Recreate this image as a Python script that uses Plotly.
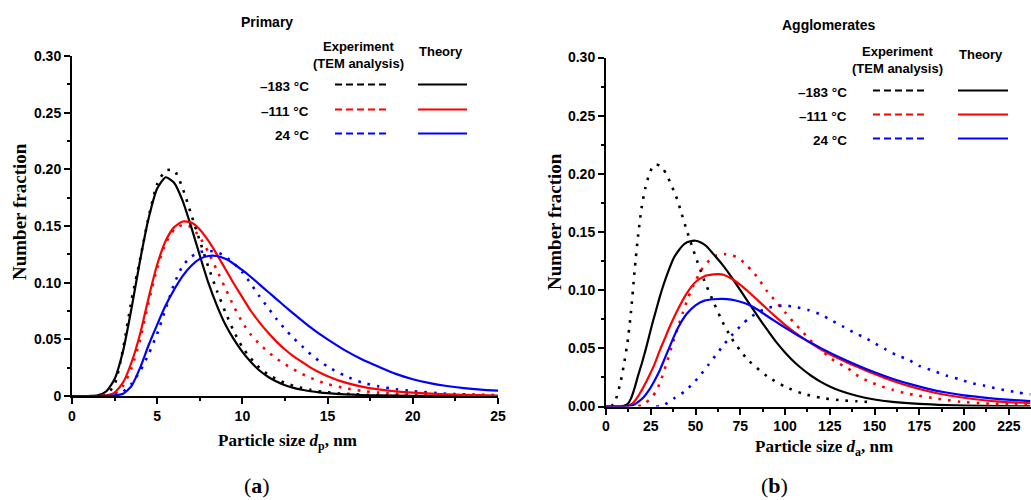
import plotly.graph_objects as go

# ---------------- Panel (a): Primary particles ----------------
a_x_black_th = [0, 1, 1.5, 2, 2.5, 3, 3.5, 4, 4.5, 5, 5.5, 6, 6.5, 7, 7.5, 8, 8.5, 9, 9.5, 10, 10.5, 11, 11.5, 12, 12.5, 13, 13.5, 14, 14.5, 15, 16, 17, 18, 20, 25]
a_y_black_th = [0, 0, 0.0005, 0.004, 0.015, 0.040, 0.078, 0.120, 0.157, 0.183, 0.193, 0.188, 0.172, 0.149, 0.124, 0.100, 0.080, 0.063, 0.050, 0.039, 0.030, 0.0225, 0.017, 0.0127, 0.0095, 0.0072, 0.0055, 0.0042, 0.0032, 0.0025, 0.0015, 0.0009, 0.0005, 0.0002, 0]

a_x_black_ex = [1.8, 2, 2.5, 3, 3.5, 4, 4.5, 5, 5.5, 6, 6.5, 7, 7.5, 8, 8.5, 9, 9.5, 10, 10.5, 11, 11.5, 12, 12.5, 13, 13.5, 14, 15, 16, 18, 20]
a_y_black_ex = [0, 0.001, 0.010, 0.042, 0.085, 0.121, 0.158, 0.187, 0.199, 0.199, 0.183, 0.160, 0.137, 0.114, 0.093, 0.074, 0.057, 0.043, 0.033, 0.025, 0.019, 0.015, 0.0115, 0.009, 0.007, 0.0055, 0.0032, 0.002, 0.0006, 0.0002]

a_x_red_th = [0, 1.5, 2, 2.5, 3, 3.5, 4, 4.5, 5, 5.5, 6, 6.5, 7, 7.5, 8, 8.5, 9, 9.5, 10, 10.5, 11, 11.5, 12, 12.5, 13, 13.5, 14, 14.5, 15, 16, 17, 18, 19, 20, 22, 25]
a_y_red_th = [0, 0, 0.0005, 0.003, 0.012, 0.030, 0.055, 0.087, 0.116, 0.137, 0.149, 0.154, 0.153, 0.147, 0.137, 0.125, 0.112, 0.099, 0.087, 0.075, 0.065, 0.056, 0.048, 0.041, 0.035, 0.030, 0.025, 0.021, 0.0175, 0.012, 0.0083, 0.0058, 0.0041, 0.0029, 0.0014, 0.0004]

a_x_red_ex = [2, 2.5, 3, 3.5, 4, 4.5, 5, 5.5, 6, 6.5, 7, 7.5, 8, 8.5, 9, 9.5, 10, 10.5, 11, 11.5, 12, 12.5, 13, 13.5, 14, 14.5, 15, 16, 17, 18, 20, 22, 25]
a_y_red_ex = [0, 0.002, 0.009, 0.025, 0.050, 0.083, 0.113, 0.135, 0.147, 0.151, 0.149, 0.140, 0.127, 0.111, 0.095, 0.079, 0.065, 0.054, 0.046, 0.039, 0.033, 0.028, 0.0235, 0.0195, 0.016, 0.013, 0.0105, 0.007, 0.0045, 0.003, 0.0012, 0.0005, 0]

a_x_blue_th = [0, 2, 2.5, 3, 3.5, 4, 4.5, 5, 5.5, 6, 6.5, 7, 7.5, 8, 8.5, 9, 9.5, 10, 10.5, 11, 11.5, 12, 12.5, 13, 13.5, 14, 14.5, 15, 16, 17, 18, 19, 20, 21, 22, 23, 24, 25]
a_y_blue_th = [0, 0, 0.0005, 0.002, 0.009, 0.025, 0.045, 0.063, 0.080, 0.094, 0.106, 0.115, 0.121, 0.1235, 0.1235, 0.121, 0.1165, 0.111, 0.105, 0.0985, 0.092, 0.0855, 0.079, 0.0727, 0.0665, 0.0605, 0.055, 0.050, 0.0405, 0.0325, 0.0258, 0.0195, 0.0148, 0.0113, 0.0088, 0.007, 0.0057, 0.0048]

a_x_blue_ex = [2.5, 3, 3.5, 4, 4.5, 5, 5.5, 6, 6.5, 7, 7.5, 8, 8.5, 9, 9.5, 10, 10.5, 11, 11.5, 12, 12.5, 13, 13.5, 14, 14.5, 15, 16, 17, 18, 19, 20, 22, 25]
a_y_blue_ex = [0.001, 0.004, 0.011, 0.022, 0.037, 0.055, 0.077, 0.099, 0.115, 0.123, 0.127, 0.128, 0.127, 0.123, 0.117, 0.109, 0.099, 0.088, 0.078, 0.068, 0.059, 0.051, 0.044, 0.037, 0.031, 0.026, 0.018, 0.012, 0.0085, 0.006, 0.0043, 0.002, 0.0008]

# ---------------- Panel (b): Agglomerates ----------------
b_x_black_th = [0, 8, 10, 12, 14, 16, 18, 20, 22, 24, 26, 28, 30, 32, 35, 38, 41, 44, 47, 50, 53, 56, 60, 65, 70, 75, 80, 85, 90, 95, 100, 105, 110, 115, 120, 125, 130, 140, 150, 160, 175, 190, 210, 237]
b_y_black_th = [0, 0, 0.0005, 0.002, 0.007, 0.016, 0.027, 0.037, 0.048, 0.060, 0.072, 0.083, 0.094, 0.104, 0.117, 0.128, 0.135, 0.140, 0.142, 0.1425, 0.141, 0.138, 0.131, 0.122, 0.1115, 0.100, 0.0885, 0.077, 0.066, 0.0555, 0.0465, 0.0385, 0.0318, 0.026, 0.0212, 0.0172, 0.014, 0.0092, 0.006, 0.004, 0.0022, 0.0012, 0.0005, 0.0001]

b_x_black_ex = [3, 5, 8, 10, 12, 14, 16, 18, 20, 22, 24, 26, 28, 30, 32, 34, 36, 38, 40, 42, 45, 50, 55, 60, 65, 70, 75, 80, 90, 100, 110, 120, 130, 140, 148]
b_y_black_ex = [0, 0.004, 0.020, 0.036, 0.055, 0.082, 0.117, 0.148, 0.172, 0.188, 0.199, 0.206, 0.208, 0.207, 0.204, 0.199, 0.192, 0.185, 0.177, 0.167, 0.152, 0.129, 0.108, 0.090, 0.073, 0.059, 0.048, 0.039, 0.026, 0.017, 0.011, 0.0075, 0.0055, 0.0045, 0.0038]

b_x_red_th = [0, 10, 12, 15, 18, 21, 24, 27, 30, 33, 36, 40, 45, 50, 55, 60, 63, 66, 70, 75, 80, 85, 90, 95, 100, 105, 110, 115, 120, 125, 130, 135, 140, 150, 160, 170, 180, 190, 200, 210, 220, 237]
b_y_red_th = [0, 0, 0.0005, 0.003, 0.009, 0.017, 0.026, 0.036, 0.048, 0.059, 0.070, 0.083, 0.097, 0.107, 0.112, 0.1135, 0.1138, 0.113, 0.110, 0.1045, 0.098, 0.091, 0.0838, 0.0768, 0.0702, 0.0642, 0.0588, 0.0538, 0.0492, 0.045, 0.0412, 0.0376, 0.0343, 0.028, 0.0222, 0.0172, 0.0131, 0.0099, 0.0075, 0.0056, 0.0042, 0.0028]

b_x_red_ex = [18, 22, 25, 28, 31, 34, 37, 40, 43, 46, 50, 54, 58, 62, 66, 70, 74, 78, 82, 86, 90, 95, 100, 105, 110, 114, 120, 125, 130, 135, 141, 147, 154, 160, 167, 174, 185, 198, 211, 225, 237]
b_y_red_ex = [0, 0.003, 0.007, 0.013, 0.024, 0.038, 0.053, 0.067, 0.081, 0.094, 0.108, 0.119, 0.126, 0.130, 0.131, 0.130, 0.128, 0.122, 0.116, 0.108, 0.099, 0.090, 0.081, 0.072, 0.064, 0.057, 0.049, 0.042, 0.037, 0.033, 0.026, 0.0215, 0.0172, 0.0144, 0.0115, 0.0095, 0.0067, 0.0041, 0.0027, 0.0022, 0.0018]

b_x_blue_th = [0, 10, 15, 18, 21, 24, 27, 30, 33, 36, 40, 45, 50, 55, 60, 65, 70, 75, 80, 85, 90, 95, 100, 105, 110, 115, 120, 125, 130, 140, 150, 160, 170, 180, 190, 200, 210, 220, 237]
b_y_blue_th = [0, 0, 0.001, 0.004, 0.008, 0.014, 0.022, 0.031, 0.042, 0.053, 0.067, 0.0795, 0.087, 0.091, 0.0922, 0.0925, 0.0918, 0.090, 0.0872, 0.0830, 0.0778, 0.0727, 0.0678, 0.0631, 0.0586, 0.0543, 0.0502, 0.0463, 0.0426, 0.0357, 0.0294, 0.0239, 0.0192, 0.0152, 0.0120, 0.0095, 0.0078, 0.0064, 0.0046]

b_x_blue_ex = [28, 32, 38, 44, 49, 53, 57, 62, 66, 71, 76, 80, 85, 90, 95, 100, 106, 113, 120, 126, 132, 138, 145, 150, 156, 162, 169, 175, 183, 190, 197, 203, 211, 217, 224, 230, 237]
b_y_blue_ex = [0, 0.001, 0.007, 0.013, 0.0205, 0.0275, 0.0355, 0.0455, 0.0535, 0.0625, 0.0705, 0.076, 0.081, 0.0845, 0.0862, 0.0868, 0.0855, 0.083, 0.079, 0.074, 0.069, 0.064, 0.0588, 0.0545, 0.0493, 0.0444, 0.0401, 0.0349, 0.0306, 0.0266, 0.0237, 0.0206, 0.018, 0.0158, 0.0137, 0.012, 0.0106]

# ---------------- Labels / ticks ----------------
series_labels = ["–183 °C", "–111 °C", "24 °C"]
series_colors = ["#000000", "#ff0000", "#0000ff"]
a_xticks = [0, 5, 10, 15, 20, 25]
b_xticks = [0, 25, 50, 75, 100, 125, 150, 175, 200, 225]
yticks = [0, 0.05, 0.10, 0.15, 0.20, 0.25, 0.30]
a_yticktext = ["0", "0.05", "0.10", "0.15", "0.20", "0.25", "0.30"]
b_yticktext = ["0.00", "0.05", "0.10", "0.15", "0.20", "0.25", "0.30"]

W, H = 1031, 500
def px(x):
    return x / W
def py(y):
    return 1 - y / H

fig = go.Figure()

panels = [
    ("x", "y", [(a_x_black_ex, a_y_black_ex), (a_x_red_ex, a_y_red_ex), (a_x_blue_ex, a_y_blue_ex)],
     [(a_x_black_th, a_y_black_th), (a_x_red_th, a_y_red_th), (a_x_blue_th, a_y_blue_th)]),
    ("x2", "y2", [(b_x_black_ex, b_y_black_ex), (b_x_red_ex, b_y_red_ex), (b_x_blue_ex, b_y_blue_ex)],
     [(b_x_black_th, b_y_black_th), (b_x_red_th, b_y_red_th), (b_x_blue_th, b_y_blue_th)]),
]
for xa, ya, exps, ths in panels:
    for (xs, ys), col, lab in zip(exps, series_colors, series_labels):
        fig.add_trace(go.Scatter(x=xs, y=ys, xaxis=xa, yaxis=ya, mode="lines",
                                 line=dict(color=col, width=2.6, dash="2.6px,7px", shape="spline", smoothing=0.6),
                                 name=lab + " experiment", showlegend=False))
    for (xs, ys), col, lab in zip(ths, series_colors, series_labels):
        fig.add_trace(go.Scatter(x=xs, y=ys, xaxis=xa, yaxis=ya, mode="lines",
                                 line=dict(color=col, width=2.2, shape="spline", smoothing=0.6),
                                 name=lab + " theory", showlegend=False))

tickfont = dict(family="Liberation Sans, Arial", size=14, color="black", weight="bold")
axis_common = dict(showline=True, linecolor="black", linewidth=2, ticks="outside", ticklen=6,
                   tickwidth=2, tickcolor="black", showgrid=False, zeroline=False,
                   tickfont=tickfont, automargin=False, mirror=False)

fig.update_layout(
    width=W, height=H,
    margin=dict(l=0, r=0, t=0, b=0),
    paper_bgcolor="white", plot_bgcolor="white",
    showlegend=False,
    xaxis=dict(domain=[px(72), px(498)], range=[0, 25], anchor="y",
               tickvals=a_xticks, ticktext=[str(v) for v in a_xticks],
               minor=dict(tickvals=[2.5, 7.5, 12.5, 17.5, 22.5], ticks="outside", ticklen=3,
                          tickwidth=2, tickcolor="black", showgrid=False),
               **axis_common),
    yaxis=dict(domain=[py(396), py(56)], range=[0, 0.30], anchor="x",
               tickvals=yticks, ticktext=a_yticktext,
               minor=dict(tickvals=[0.025, 0.075, 0.125, 0.175, 0.225, 0.275], ticks="outside",
                          ticklen=3, tickwidth=2, tickcolor="black", showgrid=False),
               **axis_common),
    xaxis2=dict(domain=[px(606), 1.0], range=[0, 237.4], anchor="y2",
                tickvals=b_xticks, ticktext=[str(v) for v in b_xticks],
                minor=dict(tickvals=[12.5 + 25 * i for i in range(10)], ticks="outside", ticklen=3,
                           tickwidth=2, tickcolor="black", showgrid=False),
                **axis_common),
    yaxis2=dict(domain=[py(406.5), py(57.5)], range=[0, 0.30], anchor="x2",
                tickvals=yticks, ticktext=b_yticktext,
                minor=dict(tickvals=[0.025, 0.075, 0.125, 0.175, 0.225, 0.275], ticks="outside",
                           ticklen=3, tickwidth=2, tickcolor="black", showgrid=False),
                **axis_common),
)

sans_b = dict(family="Liberation Sans, Arial", size=13, color="black", weight="bold")
serif_b = dict(family="Liberation Serif, Times New Roman", size=17, color="black", weight="bold")

annotations = []
def ann(text, x, y, font, xanchor="center", textangle=0):
    annotations.append(dict(text=text, x=px(x), y=py(y), xref="paper", yref="paper",
                            showarrow=False, xanchor=xanchor, yanchor="middle",
                            font=font, textangle=textangle))

ann("Primary", 267, 22, dict(sans_b, size=14))
ann("Agglomerates", 829, 25, dict(sans_b, size=14))

# custom legend tables
legends = [
    dict(exp_x=358, tem_y=63, exp_y=47, th_x=441, th_y=52, lab_x=311,
         rows=[84.5, 109.5, 133.5], dash=(335, 390), solid=(418, 467)),
    dict(exp_x=897, tem_y=68, exp_y=52, th_x=981, th_y=55, lab_x=849,
         rows=[90.5, 114.5, 138.5], dash=(873, 928), solid=(958, 1008)),
]
shapes = []
for lg in legends:
    ann("Experiment", lg["exp_x"], lg["exp_y"], sans_b)
    ann("(TEM analysis)", lg["exp_x"], lg["tem_y"], sans_b)
    ann("Theory", lg["th_x"], lg["th_y"], sans_b)
    for yrow, lab, col in zip(lg["rows"], series_labels, series_colors):
        ann(lab, lg["lab_x"], yrow + 2, dict(sans_b, size=13.5), xanchor="right")
        shapes.append(dict(type="line", xref="paper", yref="paper",
                           x0=px(lg["dash"][0]), x1=px(lg["dash"][1]), y0=py(yrow), y1=py(yrow),
                           line=dict(color=col, width=2.2, dash="7px,4px")))
        shapes.append(dict(type="line", xref="paper", yref="paper",
                           x0=px(lg["solid"][0]), x1=px(lg["solid"][1]), y0=py(yrow), y1=py(yrow),
                           line=dict(color=col, width=2.2)))

# axis titles
ann("Number fraction", 20, 212, dict(serif_b, size=19), textangle=-90)
ann("Number fraction", 555, 222, dict(serif_b, size=19), textangle=-90)
ann("Particle size <i>d</i><sub>p</sub>, nm", 287, 442, serif_b)
ann("Particle size <i>d</i><sub>a</sub>, nm", 824, 448, serif_b)

# captions
cap_font = dict(family="Liberation Serif, Times New Roman", size=22, color="black")
ann("(<b>a</b>)", 257, 485, cap_font)
ann("(<b>b</b>)", 774, 485, cap_font)

fig.update_layout(annotations=annotations, shapes=shapes)
fig.write_html("out.html", config={"displayModeBar": False},
               post_script="document.body.style.margin='0px';")
